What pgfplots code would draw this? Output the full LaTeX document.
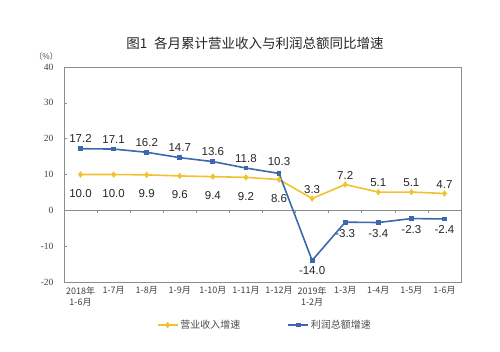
\documentclass[border=0pt]{standalone}
\usepackage{pgfplots}
\pgfplotsset{compat=1.18}
\usepackage{fontspec}
\setmainfont{Liberation Sans}
\newfontfamily\cjk{Noto Sans CJK SC}
\newfontfamily\tickfont{Liberation Serif}
\definecolor{cy}{HTML}{F2C12E}
\definecolor{cb}{HTML}{3A69AE}
\definecolor{ax}{HTML}{8C8C8C}
\begin{document}
\begin{tikzpicture}
\path[use as bounding box] (-64pt,-69pt) rectangle (436pt,282pt);
\begin{axis}[at={(0pt,0pt)}, anchor=south west,
  width=397pt, height=215pt, scale only axis,
  xmin=-0.5, xmax=11.5, ymin=-20, ymax=40,
  axis line style={ax, line width=0.8pt},
  xtick={0,...,11},
  xticklabels={{2018年\\1-6月},{1-7月},{1-8月},{1-9月},{1-10月},{1-11月},{1-12月},{2019年\\1-2月},{1-3月},{1-4月},{1-5月},{1-6月}},
  x tick label style={font=\cjk\fontsize{9}{11}\selectfont, align=center, anchor=north, text=black!75, yshift=-1pt},
  xtick style={draw=none},
  ytick={-20,-10,...,40},
  ytick pos=left, tick align=inside, major tick length=3pt,
  ytick style={ax, line width=0.6pt},
  y tick label style={font=\tickfont\fontsize{9.5}{11}\selectfont, text=black!75, xshift=-7pt},
  /pgf/number format/assume math mode=true,
  clip=false,
  legend columns=2,
  legend style={draw=none, fill=none, at={(0.506,-0.2)}, anchor=center,
    font=\cjk\fontsize{10}{12}\selectfont, text=black!70,
    /tikz/every even column/.append style={column sep=45pt}},
  legend image code/.code={\draw[#1, line width=1.6pt] (0pt,0pt) -- (20pt,0pt); \draw[#1, mark repeat=1, mark phase=1] plot coordinates {(10pt,0pt)};},
]
\draw[ax, line width=0.8pt] (axis cs:-0.5,0) -- (axis cs:11.5,0);
\pgfplotsinvokeforeach{0.5,1.5,...,10.5}{\draw[ax, line width=0.6pt] (axis cs:#1,0) -- ([yshift=-3pt]axis cs:#1,0);}
\addplot[cy, line width=1.6pt, mark=diamond*, mark size=2pt, mark options={fill=cy}]
  coordinates {(0,10.0) (1,10.0) (2,9.9) (3,9.6) (4,9.4) (5,9.2) (6,8.6) (7,3.3) (8,7.2) (9,5.1) (10,5.1) (11,4.7)};
\addlegendentry{营业收入增速}
\addplot[cb, line width=1.6pt, mark=square*, mark size=1.6pt, mark options={fill=cb}]
  coordinates {(0,17.2) (1,17.1) (2,16.2) (3,14.7) (4,13.6) (5,11.8) (6,10.3) (7,-14.0) (8,-3.3) (9,-3.4) (10,-2.3) (11,-2.4)};
\addlegendentry{利润总额增速}
% labels
\begin{scope}[every node/.style={font=\fontsize{11.5}{13}\selectfont, text=black!85}]
\node at (axis cs:0,17.2) [yshift=10pt] {17.2};
\node at (axis cs:1,17.1) [yshift=10pt] {17.1};
\node at (axis cs:2,16.2) [yshift=10pt] {16.2};
\node at (axis cs:3,14.7) [yshift=10pt] {14.7};
\node at (axis cs:4,13.6) [yshift=10pt] {13.6};
\node at (axis cs:5,11.8) [yshift=10pt] {11.8};
\node at (axis cs:6,10.3) [yshift=12pt] {10.3};
\node at (axis cs:7,-14.0) [yshift=-10pt] {-14.0};
\node at (axis cs:8,-3.3) [yshift=-11pt] {-3.3};
\node at (axis cs:9,-3.4) [yshift=-11pt] {-3.4};
\node at (axis cs:10,-2.3) [yshift=-11pt] {-2.3};
\node at (axis cs:11,-2.4) [yshift=-11pt] {-2.4};
\node at (axis cs:0,10.0) [yshift=-19pt] {10.0};
\node at (axis cs:1,10.0) [yshift=-19pt] {10.0};
\node at (axis cs:2,9.9) [yshift=-19pt] {9.9};
\node at (axis cs:3,9.6) [yshift=-19pt] {9.6};
\node at (axis cs:4,9.4) [yshift=-19pt] {9.4};
\node at (axis cs:5,9.2) [yshift=-19pt] {9.2};
\node at (axis cs:6,8.6) [yshift=-19pt] {8.6};
\node at (axis cs:7,3.3) [yshift=9pt] {3.3};
\node at (axis cs:8,7.2) [yshift=9pt] {7.2};
\node at (axis cs:9,5.1) [yshift=9pt] {5.1};
\node at (axis cs:10,5.1) [yshift=9pt] {5.1};
\node at (axis cs:11,4.7) [yshift=9pt] {4.7};
\end{scope}
\node[font=\cjk\fontsize{13.5}{16}\selectfont, text=black!85] at (rel axis cs:0.481,1.111) {图1\hspace{0.5em}各月累计营业收入与利润总额同比增速};
\node[font=\cjk\fontsize{8}{10}\selectfont, text=black!75] at (rel axis cs:-0.045,1.047) {（\%）};
\end{axis}
\end{tikzpicture}
\end{document}
